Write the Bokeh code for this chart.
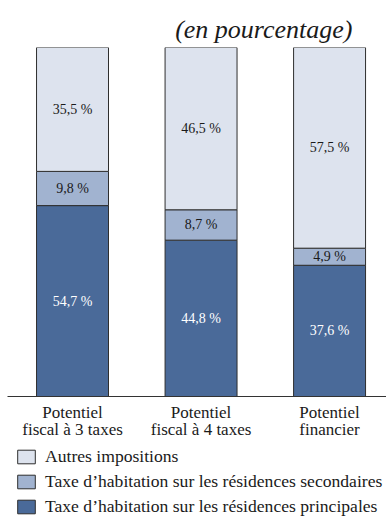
from bokeh.plotting import figure
from bokeh.layouts import column
from bokeh.models import Range1d, FixedTicker, Legend, LegendItem, ColumnDataSource, Title
from bokeh.core.properties import value
from bokeh.embed import file_html
from bokeh.resources import INLINE

# Shares of each tax in the three tax-potential measures (percent)
categories = ["Potentiel\nfiscal à 3 taxes", "Potentiel\nfiscal à 4 taxes", "Potentiel\nfinancier"]
principales = [54.7, 44.8, 37.6]
secondaires = [9.8, 8.7, 4.9]
autres = [35.5, 46.5, 57.5]

series_names = [
    "Taxe d\u2019habitation sur les résidences principales",
    "Taxe d\u2019habitation sur les résidences secondaires",
    "Autres impositions",
]
stack_cols = ["principales", "secondaires", "autres"]
colors = ["#4a6a99", "#a1b3d0", "#dde3ee"]
label_colors = ["white", "#1a1a1a", "#1a1a1a"]
OUTLINE = "#2e2e2e"

FONT = "Liberation Serif"
xs = list(range(len(categories)))

source = ColumnDataSource(dict(x=xs, principales=principales,
                               secondaires=secondaires, autres=autres))

# --- stacked bars -----------------------------------------------------------
p = figure(width=386, height=444, output_backend="svg", toolbar_location=None,
           x_range=Range1d(-0.506, 2.443), y_range=Range1d(0, 100),
           min_border_left=7, min_border_right=0, min_border_top=47,
           min_border_bottom=48)
p.outline_line_color = None
p.xgrid.visible = False
p.ygrid.visible = False
p.yaxis.visible = False

p.vbar_stack(stack_cols, x="x", width=0.56,
             source=source, color=colors, line_color=OUTLINE, line_width=1)

# Value labels centred in each segment
lx, ly, lt, lc = [], [], [], []
for i in xs:
    bottom = 0.0
    for vals, col in zip([principales, secondaires, autres], label_colors):
        v = vals[i]
        lx.append(i)
        ly.append(bottom + v / 2)
        lt.append(f"{v:.1f} %".replace(".", ","))
        lc.append(col)
        bottom += v
p.text(x="x", y="y", text="t", text_color="c",
       source=ColumnDataSource(dict(x=lx, y=ly, t=lt, c=lc)),
       text_align="center", text_baseline="middle",
       text_font=value(FONT), text_font_size="14px")

ax = p.xaxis[0]
ax.ticker = FixedTicker(ticks=xs)
ax.major_label_overrides = {i: c for i, c in zip(xs, categories)}
ax.axis_line_color = "#333333"
ax.major_tick_line_color = None
ax.minor_tick_line_color = None
ax.major_label_standoff = 0
ax.major_label_text_font = FONT
ax.major_label_text_font_size = "17px"
ax.major_label_text_line_height = 0.9
ax.major_label_text_color = "#1a1a1a"

title = Title(text="(en pourcentage)", align="right", text_font=FONT,
              text_font_style="italic", text_font_size="26px", text_color="#1a1a1a",
              offset=34, standoff=7)
p.add_layout(title, "above")

# --- legend strip -----------------------------------------------------------
lg = figure(width=386, height=73, output_backend="svg", toolbar_location=None,
            x_range=Range1d(0, 1), y_range=Range1d(0, 1),
            min_border_left=0, min_border_right=0, min_border_top=0,
            min_border_bottom=0)
lg.outline_line_color = None
lg.xgrid.visible = False
lg.ygrid.visible = False
lg.xaxis.visible = False
lg.yaxis.visible = False

# hidden renderers that only supply the legend swatches
swatches = [lg.vbar(x="x", top=col, width=0.5, source=source, fill_color=c,
                    line_color=OUTLINE, visible=False)
            for col, c in zip(stack_cols, colors)]
items = [LegendItem(label=series_names[k], renderers=[swatches[k]]) for k in (2, 1, 0)]
legend = Legend(items=items, location=(8, 0), orientation="vertical",
                border_line_color=None, background_fill_alpha=0,
                glyph_width=22, glyph_height=17, label_height=17, spacing=4,
                padding=0, margin=0, label_standoff=8,
                label_text_font=FONT, label_text_font_size="17.6px",
                label_text_color="#1a1a1a")
lg.add_layout(legend, "center")

layout = column(p, lg, spacing=0)
open("out.html", "w").write(file_html(layout, INLINE))
